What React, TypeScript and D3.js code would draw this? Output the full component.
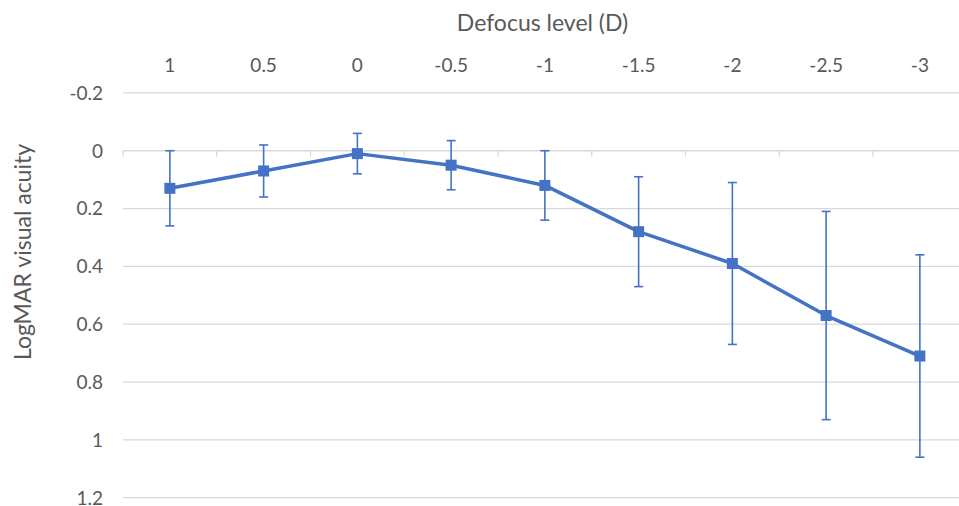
import React from "react";
import * as d3 from "d3";

const categories = ["1", "0.5", "0", "-0.5", "-1", "-1.5", "-2", "-2.5", "-3"];
const meanValues = [0.13, 0.07, 0.01, 0.05, 0.12, 0.28, 0.39, 0.57, 0.71];
const errorValues = [0.13, 0.09, 0.07, 0.085, 0.12, 0.19, 0.28, 0.36, 0.35];
const yTicks = [-0.2, 0, 0.2, 0.4, 0.6, 0.8, 1, 1.2];

const W = 959;
const H = 506;
const BLUE = "#4472C4";
const TEXT = "#595959";
const FONT = "Lato, 'Open Sans', sans-serif";

export default function App() {
  const x = d3.scaleBand<string>().domain(categories).range([123, 966.75]).padding(0);
  const y = d3.scaleLinear().domain([-0.2, 1.2]).range([92.9, 497.7]);
  const cx = (c: string) => (x(c) ?? 0) + x.bandwidth() / 2;

  const pts = categories.map((c, i) => ({ c, v: meanValues[i], e: errorValues[i] }));
  const line = d3
    .line<{ c: string; v: number }>()
    .x((d) => cx(d.c))
    .y((d) => y(d.v));

  const boundaries = d3.range(categories.length + 1).map((i) => 123 + i * x.bandwidth());

  return (
    <svg
      width={W}
      height={H}
      style={{ position: "absolute", left: 0, top: 0, background: "#fff" }}
      fontFamily={FONT}
    >
      <rect x={0} y={0} width={W} height={H} fill="#fff" />
      {yTicks.map((t) => (
        <line
          key={"g" + t}
          x1={123}
          x2={W}
          y1={y(t)}
          y2={y(t)}
          stroke="#d9d9d9"
          strokeWidth={1.3}
        />
      ))}
      {boundaries.map((b, i) => (
        <line key={"t" + i} x1={b} x2={b} y1={y(0)} y2={y(0) + 6} stroke="#d9d9d9" strokeWidth={1.3} />
      ))}
      {yTicks.map((t) => (
        <text
          key={"yl" + t}
          x={103}
          y={y(t)}
          dy="0.36em"
          textAnchor="end"
          fontSize={19}
          fill={TEXT}
        >
          {String(t)}
        </text>
      ))}
      {categories.map((c) => (
        <text key={"xl" + c} x={cx(c)} y={72} textAnchor="middle" fontSize={19} fill={TEXT}>
          {c}
        </text>
      ))}
      <text x={542.5} y={31} textAnchor="middle" fontSize={23} fill={TEXT}>
        Defocus level (D)
      </text>
      <text
        transform={`translate(31,252) rotate(-90)`}
        textAnchor="middle"
        fontSize={23}
        fill={TEXT}
      >
        LogMAR visual acuity
      </text>
      {pts.map((p) => (
        <g key={"e" + p.c} stroke={BLUE} strokeWidth={1.6}>
          <line x1={cx(p.c)} x2={cx(p.c)} y1={y(p.v - p.e)} y2={y(p.v + p.e)} />
          <line x1={cx(p.c) - 4.5} x2={cx(p.c) + 4.5} y1={y(p.v - p.e)} y2={y(p.v - p.e)} />
          <line x1={cx(p.c) - 4.5} x2={cx(p.c) + 4.5} y1={y(p.v + p.e)} y2={y(p.v + p.e)} />
        </g>
      ))}
      <path d={line(pts) ?? ""} fill="none" stroke={BLUE} strokeWidth={3.5} strokeLinejoin="round" />
      {pts.map((p) => (
        <rect key={"m" + p.c} x={cx(p.c) - 5.5} y={y(p.v) - 5.5} width={11} height={11} fill={BLUE} />
      ))}
    </svg>
  );
}
